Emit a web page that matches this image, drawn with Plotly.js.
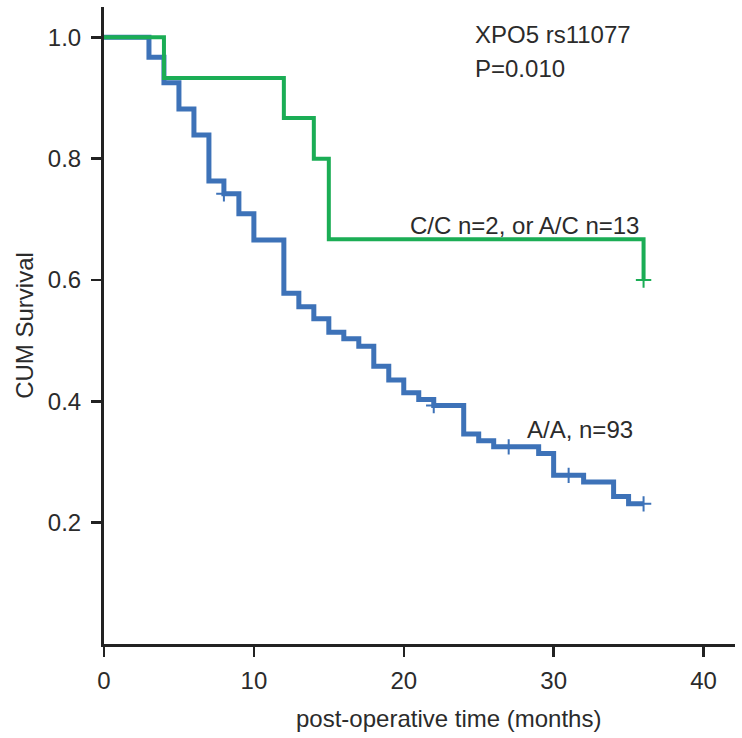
<!DOCTYPE html>
<html>
<head>
<meta charset="utf-8">
<script src="https://cdn.plot.ly/plotly-3.0.1.min.js"></script>
<style>
  html, body { margin: 0; padding: 0; background: #fff; }
  #chart { width: 742px; height: 738px; }
</style>
</head>
<body>
<div id="chart"></div>
<script>
// A/A group (n=93), Kaplan-Meier steps
var aaTime = [0, 3, 4, 5, 6, 7, 8, 9, 10, 12, 13, 14, 15, 16, 17, 18, 19, 20, 21, 22, 24, 25, 26, 29, 30, 32, 34, 35, 36];
var aaSurv = [1, 0.967, 0.925, 0.882, 0.839, 0.763, 0.742, 0.709, 0.666, 0.578, 0.556, 0.536, 0.514, 0.503, 0.491, 0.458, 0.435, 0.414, 0.403, 0.393, 0.346, 0.335, 0.325, 0.314, 0.278, 0.267, 0.243, 0.231, 0.231];
var aaCensTime = [8, 22, 27, 31, 36];
var aaCensSurv = [0.742, 0.393, 0.325, 0.278, 0.231];

// C/C or A/C group (n=15)
var ccTime = [0, 4, 12, 14, 15, 36];
var ccSurv = [1, 0.933, 0.867, 0.8, 0.667, 0.6];
var ccCensTime = [36];
var ccCensSurv = [0.6];

var xTicks = [0, 10, 20, 30, 40];
var yTicks = [0.2, 0.4, 0.6, 0.8, 1.0];
var yTickText = ['0.2', '0.4', '0.6', '0.8', '1.0'];

var blue = '#3d72b8';
var green = '#1bad55';
var font = 'Liberation Sans, Arial, sans-serif';

var data = [
  {x: aaTime, y: aaSurv, mode: 'lines', line: {color: blue, width: 5, shape: 'hv'}},
  {x: aaCensTime, y: aaCensSurv, mode: 'markers',
   marker: {symbol: 'cross-thin', size: 11, line: {color: blue, width: 2}}},
  {x: ccTime, y: ccSurv, mode: 'lines', line: {color: green, width: 4, shape: 'hv'}},
  {x: ccCensTime, y: ccCensSurv, mode: 'markers',
   marker: {symbol: 'cross-thin', size: 11, line: {color: green, width: 2}}}
];

var layout = {
  width: 742,
  height: 738,
  showlegend: false,
  paper_bgcolor: '#fff',
  plot_bgcolor: '#fff',
  margin: {l: 104, r: 7, t: 7, b: 94},
  font: {family: font, size: 24, color: '#2b2b2b'},
  xaxis: {
    range: [0, 42.1],
    tickvals: xTicks,
    ticks: 'outside', ticklen: 10, tickwidth: 2.5, tickcolor: '#222',
    ticklabelstandoff: 3,
    showline: true, linecolor: '#222', linewidth: 3,
    showgrid: false, zeroline: false,
    tickfont: {size: 24}
  },
  yaxis: {
    range: [0, 1.05],
    tickvals: yTicks,
    ticktext: yTickText,
    ticks: 'outside', ticklen: 10, tickwidth: 2.5, tickcolor: '#222',
    ticklabelstandoff: 5,
    showline: true, linecolor: '#222', linewidth: 3,
    showgrid: false, zeroline: false,
    tickfont: {size: 24},
    title: {text: 'CUM Survival', font: {size: 24}, standoff: 8}
  },
  annotations: [
    {x: 23, y: 0, xref: 'x', yref: 'paper', yshift: -74, text: 'post-operative time (months)', showarrow: false, xanchor: 'center', yanchor: 'middle'},
    {x: 24.6, y: 1.005, xref: 'x', yref: 'y', text: 'XPO5 rs11077', showarrow: false, xanchor: 'left', yanchor: 'middle'},
    {x: 24.6, y: 0.948, xref: 'x', yref: 'y', text: 'P=0.010', showarrow: false, xanchor: 'left', yanchor: 'middle'},
    {x: 35.8, y: 0.69, xref: 'x', yref: 'y', text: 'C/C n=2, or A/C n=13', showarrow: false, xanchor: 'right', yanchor: 'middle'},
    {x: 28.1, y: 0.353, xref: 'x', yref: 'y', text: 'A/A, n=93', showarrow: false, xanchor: 'left', yanchor: 'middle'}
  ]
};

Plotly.newPlot('chart', data, layout, {displayModeBar: false, staticPlot: true});
</script>
</body>
</html>
